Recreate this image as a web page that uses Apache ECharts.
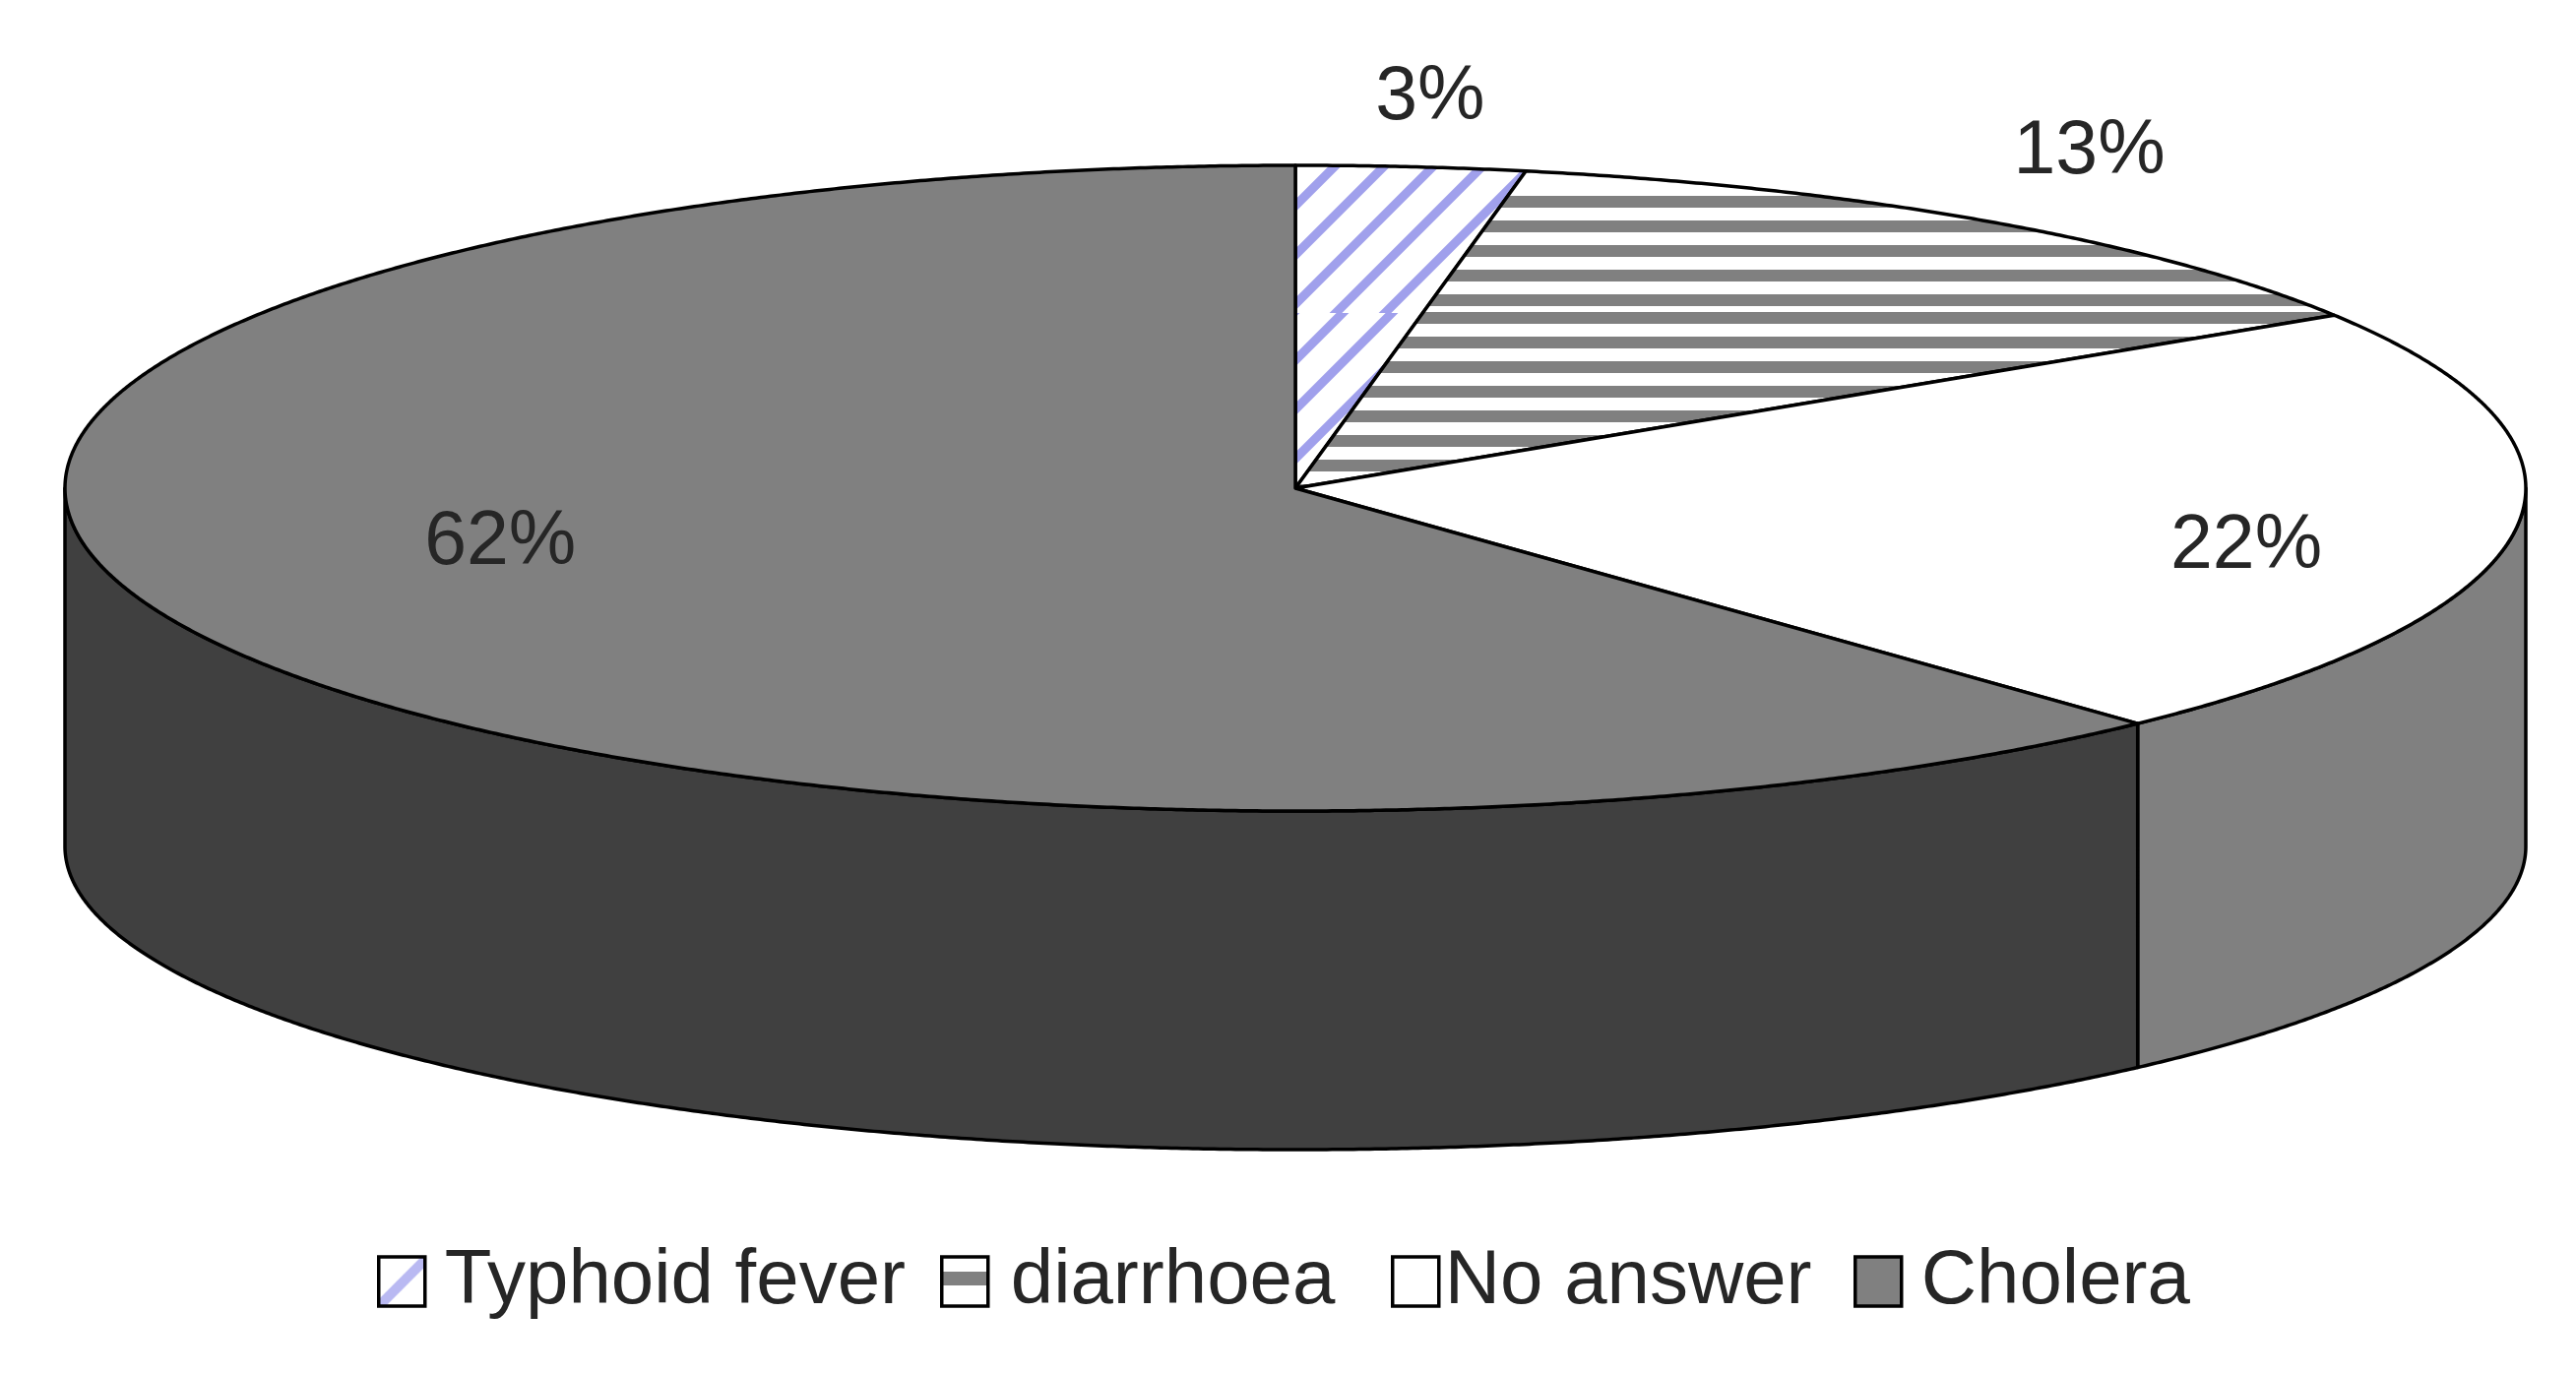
<!DOCTYPE html>
<html>
<head>
<meta charset="utf-8">
<style>html,body{margin:0;padding:0;background:#fff}#c{width:2617px;height:1397px}</style>
<script src="https://cdn.jsdelivr.net/npm/echarts@6/dist/echarts.min.js"></script>
</head>
<body>
<div id="c"></div>
<script>
const categories = ['Typhoid fever', 'diarrhoea', 'No answer', 'Cholera'];
const values = [3, 13, 22, 62];
const labels = ['3%', '13%', '22%', '62%'];

// Layout and style
const CX = 1316, CY = 496, RX = 1250, RY = 328;
const BOTTOM_CY = 860, BOTTOM_RY = 308;
const labelFactor = [[1.163, 1.213], [1.148, 1.258], [0.779, 1.46], [0.695, 0.464]];
const sideColors = [null, null, '#808080', '#404040'];
const legendLeft = [378, 950, 1408, 1878];
const legendTextPad = [15, 18, 1, 15];

function makeCanvas(w, h, draw) {
  const c = document.createElement('canvas');
  c.width = w; c.height = h;
  const g = c.getContext('2d');
  g.fillStyle = '#fff'; g.fillRect(0, 0, w, h);
  draw(g, w, h);
  return c;
}
function diagonal(g, w, y0, y1, phase) {
  g.save();
  g.beginPath(); g.rect(0, y0, w, y1 - y0); g.clip();
  g.strokeStyle = '#a0a0ec'; g.lineWidth = 9;
  for (let s = phase; s < w + y1 + 100; s += 50) {
    g.beginPath(); g.moveTo(s - y0 + 10, y0 - 10); g.lineTo(s - y1 - 10, y1 + 10); g.stroke();
  }
  g.restore();
}
const W = 2617, H = 1397;
const hatchTyphoid = makeCanvas(W, H, (g, w) => {
  diagonal(g, w, 0, 318, 25);
  diagonal(g, w, 318, H, 32);
});
const hatchDiarrhoea = makeCanvas(W, H, (g, w) => {
  g.fillStyle = '#808080';
  for (let y = 205; y <= 305; y += 25) g.fillRect(0, y - 6, w, 12);
  for (let y = 323; y < 500; y += 25) g.fillRect(0, y - 6, w, 12);
});
const legendTyphoid = makeCanvas(50, 50, (g) => {
  g.strokeStyle = '#b9b9f2'; g.lineWidth = 10;
  g.beginPath(); g.moveTo(-5, 55); g.lineTo(55, -5); g.stroke();
});
const legendDiarrhoea = makeCanvas(4, 50, (g) => {
  g.fillStyle = '#808080'; g.fillRect(0, 15, 4, 14);
});
const topFills = [
  { image: hatchTyphoid, repeat: 'repeat' },
  { image: hatchDiarrhoea, repeat: 'repeat' },
  '#ffffff',
  '#808080'
];
const legendFills = [
  { image: legendTyphoid, repeat: 'repeat' },
  { image: legendDiarrhoea, repeat: 'repeat' },
  '#ffffff',
  '#808080'
];

const total = values.reduce((a, b) => a + b, 0);
const starts = values.map((_, i) => values.slice(0, i).reduce((a, b) => a + b, 0));
const toDeg = v => v / total * 360;
function arc(a, b, cy, ry) {
  const out = [];
  const n = Math.max(2, Math.ceil(Math.abs(b - a) * 4));
  for (let i = 0; i <= n; i++) {
    const r = (a + (b - a) * i / n) * Math.PI / 180;
    out.push([CX + RX * Math.sin(r), cy - ry * Math.cos(r)]);
  }
  return out;
}
const lineStyle = { stroke: '#000', lineWidth: 3.5, lineJoin: 'round' };

const series = categories.map((name, idx) => ({
  name,
  type: 'custom',
  coordinateSystem: 'none',
  silent: true,
  data: [[values[idx], starts[idx]]],
  z: 2,
  renderItem(params, api) {
    const v = api.value(0), s = api.value(1);
    const a0 = toDeg(s), a1 = toDeg(s + v);
    const children = [];
    const lo = Math.max(a0, 90), hi = Math.min(a1, 270);
    if (sideColors[idx] && hi > lo) {
      children.push({
        type: 'polygon',
        shape: { points: arc(lo, hi, CY, RY).concat(arc(hi, lo, BOTTOM_CY, BOTTOM_RY)) },
        style: Object.assign({ fill: sideColors[idx] }, lineStyle)
      });
    }
    children.push({
      type: 'polygon',
      shape: { points: [[CX, CY]].concat(arc(a0, a1, CY, RY)) },
      style: Object.assign({ fill: topFills[idx] }, lineStyle)
    });
    const mid = (a0 + a1) / 2 * Math.PI / 180;
    const f = labelFactor[idx];
    children.push({
      type: 'text',
      z2: 10,
      style: {
        x: CX + RX * Math.sin(mid) * f[0],
        y: CY - RY * Math.cos(mid) * f[1],
        text: labels[idx],
        fill: '#262626',
        font: '77px "Liberation Sans", Arial, sans-serif',
        align: 'center',
        verticalAlign: 'middle'
      }
    });
    return { type: 'group', children };
  }
}));

const chart = echarts.init(document.getElementById('c'), null, { renderer: 'canvas', width: W, height: H });
chart.setOption({
  backgroundColor: '#ffffff',
  animation: false,
  tooltip: { show: false },
  legend: categories.map((name, i) => ({
    show: true,
    left: legendLeft[i],
    top: 1258,
    orient: 'horizontal',
    itemWidth: 47,
    itemHeight: 50,
    selectedMode: false,
    icon: 'rect',
    textStyle: { fontFamily: '"Liberation Sans", Arial, sans-serif', fontSize: 78, color: '#262626', padding: [0, 0, 0, legendTextPad[i]] },
    data: [{
      name,
      icon: 'rect',
      itemStyle: { color: legendFills[i], borderColor: '#000', borderWidth: 3.5 }
    }]
  })),
  series
});
</script>
</body>
</html>
